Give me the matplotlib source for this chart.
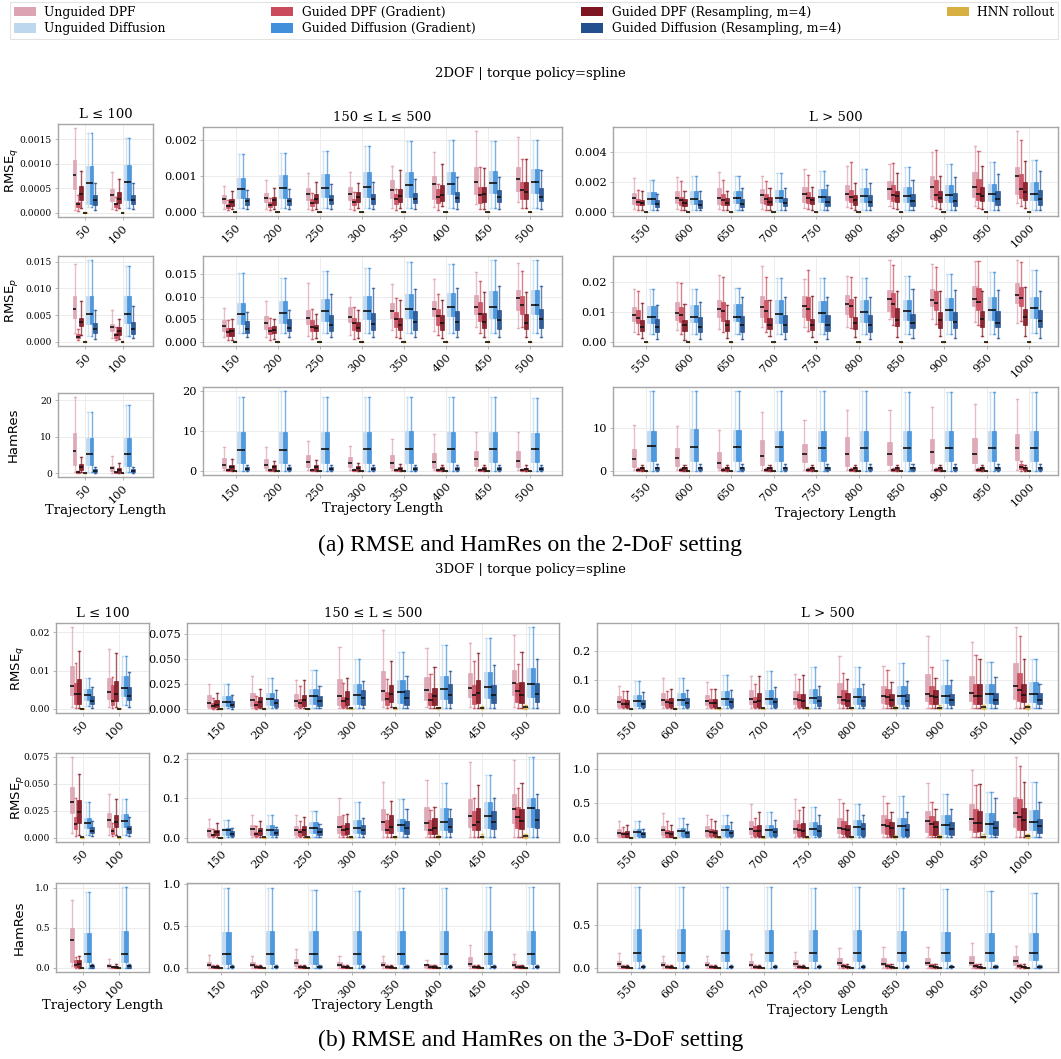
import matplotlib
matplotlib.use("Agg")
import matplotlib.pyplot as plt
from matplotlib.patches import Patch
from matplotlib.ticker import MultipleLocator

W, H, DPI = 1061, 1059, 100

SERIES = ["Unguided DPF", "Guided DPF (Gradient)", "Guided DPF (Resampling, m=4)",
          "HNN rollout", "Unguided Diffusion", "Guided Diffusion (Gradient)",
          "Guided Diffusion (Resampling, m=4)"]
COLORS = ["#dca3b2", "#c94b5c", "#7e1622", "#d8b042", "#bdd7ee", "#4090dc", "#22508f"]
LEN_SHORT = [50, 100]
LEN_MID = [150, 200, 250, 300, 350, 400, 450, 500]
LEN_LONG = [550, 600, 650, 700, 750, 800, 850, 900, 950, 1000]
COL_TITLES = ["L \u2264 100", "150 \u2264 L \u2264 500", "L > 500"]
METRIC_LABELS = ["RMSE$_q$", "RMSE$_p$", "HamRes"]
SETTING_TITLES = ["2DOF | torque policy=spline", "3DOF | torque policy=spline"]
CAPTIONS = ["(a) RMSE and HamRes on the 2-DoF setting",
            "(b) RMSE and HamRes on the 3-DoF setting"]
XLABEL = "Trajectory Length"

# Each entry: (whisker low, Q1, median, Q3, whisker high) for lengths 50..1000
# ---------------- 2DOF RMSE_q (x1e-3) ----------------
D2Q_UNIT = 1e-3
D2Q_UDPF = [(0.05,0.48,0.77,1.09,1.73),(0.07,0.25,0.36,0.48,0.84),
    (0.08,0.26,0.36,0.48,0.73),(0.07,0.28,0.39,0.54,0.90),(0.08,0.32,0.51,0.67,1.09),(0.09,0.32,0.49,0.70,1.12),
    (0.12,0.40,0.62,0.89,1.29),(0.14,0.35,0.77,1.01,1.67),(0.21,0.49,0.83,1.26,2.26),(0.27,0.58,0.93,1.25,2.09),
    (0.20,0.53,0.91,1.29,2.29),(0.20,0.60,0.95,1.38,2.35),(0.20,0.56,0.95,1.58,2.71),(0.20,0.60,1.15,1.51,2.44),
    (0.29,0.67,1.22,1.71,2.89),(0.33,0.78,1.22,1.84,3.11),(0.38,0.84,1.53,2.07,3.24),(0.38,0.89,1.69,2.42,4.02),
    (0.42,1.00,1.69,2.71,4.42),(0.60,1.18,2.40,3.04,5.44)]
D2Q_GDPF_GRAD = [(0.04,0.11,0.17,0.23,0.37),(0.05,0.12,0.17,0.21,0.32),
    (0.05,0.12,0.17,0.23,0.34),(0.05,0.14,0.20,0.28,0.40),(0.05,0.17,0.26,0.35,0.52),(0.05,0.20,0.28,0.37,0.55),
    (0.06,0.23,0.36,0.49,0.65),(0.05,0.26,0.42,0.65,0.78),(0.08,0.26,0.48,0.71,1.26),(0.12,0.35,0.60,0.85,1.49),
    (0.16,0.44,0.64,0.89,1.49),(0.16,0.47,0.78,1.00,2.07),(0.16,0.47,0.78,1.18,2.18),(0.16,0.56,0.89,1.22,2.11),
    (0.20,0.62,0.95,1.33,2.49),(0.24,0.67,1.00,1.49,3.33),(0.29,0.71,1.15,1.82,3.31),(0.29,0.78,1.15,2.15,4.15),
    (0.29,0.78,1.22,2.24,4.11),(0.38,0.96,1.55,2.53,4.82)]
D2Q_GDPF_RES = [(0.09,0.27,0.38,0.55,0.85),(0.09,0.20,0.29,0.43,0.69),
    (0.09,0.18,0.28,0.36,0.58),(0.09,0.20,0.32,0.41,0.67),(0.08,0.26,0.36,0.49,0.83),(0.11,0.27,0.41,0.56,0.82),
    (0.11,0.28,0.44,0.65,1.16),(0.16,0.30,0.46,0.74,1.35),(0.08,0.28,0.49,0.71,1.24),(0.12,0.37,0.55,0.85,1.47),
    (0.16,0.44,0.62,0.82,1.38),(0.16,0.42,0.62,0.84,1.42),(0.16,0.44,0.62,0.95,1.40),(0.11,0.44,0.69,0.98,1.62),
    (0.11,0.56,0.78,1.00,1.71),(0.16,0.49,0.82,1.15,1.98),(0.20,0.67,1.07,1.42,2.60),(0.20,0.67,0.95,1.42,2.40),
    (0.20,0.71,1.04,1.71,3.11),(0.29,0.78,1.33,2.00,3.44)]
D2Q_HNN = [(0.0,0.002,0.004,0.006,0.010)] * 20
D2Q_UDIFF = [(0.12,0.18,0.60,0.96,1.64),(0.10,0.26,0.63,0.98,1.54),
    (0.12,0.39,0.64,0.96,1.61),(0.12,0.40,0.67,1.04,1.65),(0.12,0.41,0.67,1.07,1.70),(0.12,0.41,0.71,1.12,1.84),
    (0.12,0.43,0.76,1.12,1.97),(0.12,0.49,0.78,1.13,2.00),(0.12,0.52,0.82,1.14,1.98),(0.12,0.53,0.84,1.20,2.00),
    (0.16,0.56,0.87,1.31,2.15),(0.16,0.56,0.89,1.40,2.40),(0.16,0.60,0.91,1.44,2.44),(0.16,0.64,0.95,1.49,2.64),
    (0.16,0.67,1.00,1.53,2.75),(0.16,0.67,1.07,1.64,2.89),(0.16,0.67,1.07,1.69,3.00),(0.16,0.67,1.15,1.78,3.22),
    (0.16,0.71,1.24,1.89,3.38),(0.16,0.78,1.22,2.04,3.49)]
D2Q_GDIFF_GRAD = list(D2Q_UDIFF)
D2Q_GDIFF_RES = [(0.06,0.16,0.27,0.37,0.60),(0.07,0.18,0.27,0.37,0.60),
    (0.07,0.19,0.30,0.39,0.60),(0.07,0.20,0.30,0.40,0.65),(0.07,0.21,0.32,0.46,0.78),(0.07,0.22,0.35,0.49,0.85),
    (0.07,0.26,0.37,0.53,0.92),(0.07,0.28,0.39,0.56,0.99),(0.08,0.28,0.41,0.60,0.99),(0.08,0.30,0.42,0.68,1.16),
    (0.11,0.33,0.51,0.80,1.24),(0.11,0.29,0.49,0.82,1.42),(0.11,0.33,0.56,0.89,1.60),(0.11,0.38,0.60,0.95,1.62),
    (0.11,0.38,0.64,1.04,1.84),(0.11,0.38,0.69,1.15,1.95),(0.11,0.38,0.73,1.18,2.18),(0.11,0.38,0.76,1.27,2.35),
    (0.11,0.44,0.84,1.40,2.58),(0.11,0.47,0.89,1.49,2.78)]

# ---------------- 2DOF RMSE_p (x1e-3) ----------------
D2P_UNIT = 1e-3
D2P_UDPF = [(1.6,4.4,6.1,8.5,14.6),(0.8,2.0,2.8,3.3,6.0),
    (1.1,2.4,3.5,4.8,7.6),(1.1,2.8,4.1,5.8,9.1),(1.3,3.9,5.3,7.2,13.0),(1.5,4.4,5.6,7.7,10.0),
    (2.6,5.3,6.8,8.7,12.9),(2.5,5.7,7.3,9.1,14.1),(3.3,6.2,7.8,10.4,15.6),(3.2,7.1,9.7,11.5,17.5),
    (3.4,6.9,8.9,11.7,17.7),(4.0,7.5,9.7,13.4,19.9),(4.3,8.3,11.1,14.0,22.4),(5.1,8.5,11.7,15.3,25.3),
    (5.1,8.3,12.0,15.3,21.0),(5.1,9.4,12.6,15.7,22.2),(7.7,10.3,14.5,17.4,27.4),(7.7,12.0,14.2,17.7,26.0),
    (6.6,12.0,14.5,18.7,27.0),(6.2,13.1,15.7,19.7,27.4)]
D2P_GDPF_GRAD = [(0.3,0.7,1.0,1.5,2.5),(0.3,0.8,1.2,1.7,2.7),
    (0.5,1.3,2.2,3.1,4.8),(0.5,1.7,2.5,3.3,5.3),(0.7,2.4,3.3,4.8,7.4),(0.7,2.6,4.1,5.4,7.8),
    (1.1,3.3,5.0,6.7,9.7),(1.5,3.7,5.8,7.4,10.6),(1.9,4.6,6.3,8.9,13.6),(3.3,6.3,8.3,10.2,15.8),
    (2.8,6.2,8.0,10.6,17.2),(2.6,6.5,8.9,11.7,19.7),(3.2,6.9,10.2,13.2,21.7),(3.2,6.8,10.3,14.0,21.9),
    (3.7,7.2,10.9,15.1,24.2),(4.7,8.3,11.9,14.3,21.7),(5.5,8.5,12.6,16.5,25.9),(6.0,10.6,13.1,16.9,25.0),
    (5.8,10.6,13.3,18.2,27.0),(6.9,12.0,14.8,18.3,26.8)]
D2P_GDPF_RES = [(1.2,3.0,3.7,4.5,7.7),(0.5,1.3,2.0,2.7,4.3),
    (0.5,1.3,2.4,3.1,5.2),(0.7,1.9,2.7,3.6,5.2),(0.8,2.4,3.0,3.7,6.3),(0.9,2.4,3.2,4.5,7.1),
    (0.9,2.6,3.7,5.4,9.4),(0.9,2.6,4.1,5.9,9.4),(1.0,3.0,4.5,6.5,11.0),(1.0,2.8,4.2,6.3,11.0),
    (1.2,3.5,5.1,7.2,13.1),(0.6,3.7,5.7,7.5,12.6),(1.2,3.7,5.7,7.5,12.4),(2.0,4.3,5.8,8.0,14.2),
    (1.5,4.0,5.8,7.7,15.3),(1.7,4.3,6.2,8.3,15.1),(1.7,5.2,7.4,11.5,17.0),(1.9,4.7,7.4,10.1,17.2),
    (2.0,5.1,7.7,10.3,17.2),(2.0,5.8,8.3,11.1,18.3)]
D2P_HNN = [(0.0,0.02,0.04,0.06,0.10)] * 20
D2P_UDIFF = [(1.1,3.3,5.3,8.5,15.3),(1.1,3.5,5.3,8.5,14.2),
    (1.9,3.9,6.1,8.7,15.4),(1.9,4.3,6.5,9.1,14.3),(1.9,4.7,6.8,9.6,15.8),(1.9,5.1,6.9,10.3,16.5),
    (1.9,5.4,7.3,10.6,17.8),(1.9,5.7,7.7,10.8,17.3),(1.9,5.4,7.8,11.4,18.2),(1.9,6.1,8.2,11.5,18.2),
    (2.6,6.4,8.5,11.9,17.8),(2.6,6.6,8.5,12.4,17.8),(2.6,6.9,8.5,12.6,18.2),(2.6,6.4,9.2,14.0,21.3),
    (2.6,6.6,9.7,13.6,21.3),(2.6,6.6,9.9,14.2,21.3),(2.8,7.2,10.2,14.2,22.0),(2.8,7.4,10.6,14.7,22.8),
    (2.8,7.4,10.8,15.1,23.5),(3.1,8.1,11.4,15.1,24.0)]
D2P_GDIFF_GRAD = list(D2P_UDIFF)
D2P_GDIFF_RES = [(0.6,1.6,2.4,3.5,5.9),(0.8,1.5,2.5,3.7,6.8),
    (1.0,1.9,2.9,4.6,6.7),(1.0,2.4,3.1,5.1,7.1),(1.0,2.5,3.7,5.9,10.6),(1.0,2.7,3.9,6.5,11.9),
    (1.0,2.7,4.5,6.8,11.7),(1.0,2.7,4.5,6.9,12.1),(1.0,2.8,4.8,7.2,12.4),(1.1,3.0,5.1,7.4,12.4),
    (0.9,3.2,4.9,7.7,12.2),(0.9,3.4,5.1,8.3,13.4),(0.9,3.4,5.5,8.7,15.1),(1.1,3.4,5.5,8.9,15.1),
    (0.9,3.7,5.5,8.9,15.1),(0.9,3.4,5.5,8.9,15.1),(1.2,4.5,6.2,9.4,17.7),(1.2,4.7,6.6,9.9,17.4),
    (1.2,4.9,6.4,10.3,17.4),(1.2,4.9,6.9,10.6,17.2)]

# ---------------- 2DOF HamRes ----------------
D2H_UNIT = 1.0
D2H_UDPF = [(0.4,2.2,6.1,11.0,21.0),(0.1,0.6,1.3,2.0,4.8),
    (0.2,0.65,1.6,3.3,5.9),(0.2,0.8,1.5,3.1,5.9),(0.2,1.0,2.2,4.0,7.5),(0.2,0.9,1.9,3.5,6.3),
    (0.2,0.8,2.0,4.0,7.9),(0.2,0.8,2.2,4.4,9.2),(0.2,1.2,3.1,5.0,9.8),(0.2,1.0,2.4,4.9,9.8),
    (0.2,1.0,2.7,5.0,10.5),(0.2,1.2,2.9,5.2,10.3),(0.2,0.8,1.9,4.3,9.4),(0.2,1.4,3.5,7.1,13.6),
    (0.2,2.0,3.8,6.3,11.8),(0.2,1.2,3.9,7.9,14.1),(0.2,1.4,3.8,6.6,14.1),(0.2,1.9,4.4,7.3,14.8),
    (0.2,1.8,4.0,7.6,15.5),(0.2,2.5,5.2,8.5,16.5)]
D2H_GDPF_GRAD = [(0.05,0.1,0.2,0.4,0.6),(0.02,0.1,0.2,0.3,0.4),
    (0.02,0.05,0.15,0.3,0.4),(0.02,0.05,0.15,0.3,0.4),(0.02,0.05,0.15,0.3,0.4),(0.02,0.05,0.15,0.3,0.4),
    (0.02,0.05,0.15,0.3,0.4),(0.02,0.05,0.15,0.3,0.4),(0.02,0.05,0.15,0.3,0.4),(0.02,0.05,0.15,0.3,0.4),
    (0.02,0.1,0.2,0.4,0.6),(0.02,0.1,0.2,0.4,0.6),(0.02,0.1,0.2,0.4,0.6),(0.02,0.1,0.2,0.4,0.6),
    (0.02,0.1,0.2,0.4,0.6),(0.02,0.1,0.2,0.4,0.6),(0.02,0.1,0.2,0.4,0.6),(0.02,0.1,0.2,0.4,0.6),
    (0.02,0.1,0.2,0.4,0.6),(0.1,0.5,1.0,1.5,2.4)]
D2H_GDPF_RES = [(0.2,0.8,1.6,2.4,4.5),(0.1,0.4,0.9,1.4,2.8),
    (0.05,0.2,0.9,1.6,3.0),(0.05,0.3,0.9,1.6,2.6),(0.05,0.2,0.9,1.5,2.8),(0.05,0.2,0.7,1.2,2.0),
    (0.05,0.2,0.6,1.1,1.8),(0.05,0.2,0.6,1.0,1.6),(0.05,0.2,0.5,0.9,1.4),(0.05,0.2,0.5,0.8,1.4),
    (0.05,0.2,0.6,0.9,1.4),(0.05,0.2,0.6,0.9,1.4),(0.05,0.2,0.6,0.9,1.4),(0.05,0.2,0.6,0.9,1.4),
    (0.05,0.2,0.6,0.9,1.4),(0.05,0.2,0.6,0.9,1.4),(0.05,0.2,0.6,0.9,1.4),(0.05,0.2,0.6,0.9,1.4),
    (0.05,0.2,0.6,0.9,1.4),(0.05,0.2,0.6,0.9,1.4)]
D2H_HNN = [(0.0,0.01,0.02,0.03,0.05)] * 20
D2H_UDIFF = [(0.2,2.2,5.3,9.8,16.7),(0.2,2.0,5.4,9.6,18.7),
    (0.1,2.0,5.3,9.7,18.5),(0.1,2.0,5.2,9.7,20.0),(0.1,2.0,5.5,9.7,18.5),(0.1,2.0,5.4,9.7,18.5),
    (0.1,2.0,5.4,9.9,18.5),(0.1,2.2,5.6,9.7,18.5),(0.1,2.3,5.6,9.7,18.4),(0.1,2.3,5.6,9.5,18.3),
    (0.1,2.3,5.7,9.3,18.3),(0.1,2.3,5.5,9.6,18.3),(0.1,2.3,5.5,9.4,18.4),(0.1,2.3,5.5,9.2,18.4),
    (0.1,2.3,5.4,9.1,18.4),(0.1,2.3,5.3,9.2,18.3),(0.1,2.3,5.3,9.1,18.1),(0.1,2.3,5.2,9.2,18.2),
    (0.1,2.3,5.2,9.3,18.1),(0.1,2.3,5.2,9.3,18.2)]
D2H_GDIFF_GRAD = list(D2H_UDIFF)
D2H_GDIFF_RES = [(0.1,0.4,0.7,1.1,1.8),(0.1,0.4,0.7,1.1,1.8)] + [(0.05,0.3,0.6,1.0,1.6)] * 18

# ---------------- 3DOF RMSE_q (x1e-3) ----------------
D3Q_UNIT = 1e-3
D3Q_UDPF = [(0.5,3.6,6.0,11.1,21.4),(0.5,2.7,4.4,8.0,15.6),
    (0.7,2.4,6.1,13.6,25.4),(1.0,3.1,9.2,16.3,33.2),(1.0,3.4,7.8,14.9,28.8),(1.0,4.4,13.2,29.8,62.0),
    (1.7,8.5,17.6,38.3,79.7),(1.7,9.2,18.6,31.9,61.0),(1.7,11.5,20.7,35.9,66.8),(2.4,13.6,26.4,39.0,74.2),
    (3.5,8.1,25.4,42.8,79.8),(3.5,13.9,30.1,54.3,107.5),(3.5,13.9,28.9,48.6,91.3),(3.5,17.3,35.8,63.6,114.4),
    (3.5,17.3,34.7,61.3,121.4),(3.5,22.0,40.5,89.0,181.5),(3.5,19.7,42.8,78.6,148.0),(3.5,26.6,52.0,119.1,250.9),
    (3.5,28.9,55.0,112.1,231.2),(3.5,34.7,77.5,156.1,280.9)]
D3Q_GDPF_GRAD = [(0.35,1.4,3.8,6.7,11.9),(0.2,1.0,2.0,6.2,8.4),
    (0.3,1.0,3.1,6.4,11.2),(0.3,1.4,3.7,7.5,12.5),(0.7,2.4,5.8,9.5,23.4),(0.7,2.4,7.5,11.9,26.1),
    (1.0,4.4,9.5,17.0,30.2),(1.0,4.1,8.5,15.9,35.6),(1.0,5.1,13.6,23.7,47.8),(1.0,6.8,17.6,26.1,45.4),
    (3.5,5.8,17.3,33.5,61.3),(3.5,5.8,24.3,34.7,61.3),(3.5,5.8,19.7,35.8,68.2),(3.5,8.1,24.3,40.5,84.4),
    (3.5,8.1,30.1,52.0,102.9),(3.5,17.3,31.2,65.9,123.7),(3.5,17.3,40.5,68.2,135.3),(3.5,17.3,42.8,77.5,144.5),
    (3.5,17.3,46.2,86.7,185.0),(3.5,28.9,65.9,123.7,250.9)]
D3Q_GDPF_RES = [(0.35,1.4,4.0,7.7,15.2),(0.5,2.1,4.0,7.4,14.6),
    (0.3,1.7,4.4,8.5,15.9),(0.7,2.4,6.8,11.9,20.3),(1.0,3.1,9.2,14.2,28.8),(1.0,4.1,10.2,18.0,31.5),
    (1.7,6.8,14.6,24.1,47.8),(1.0,4.1,13.2,21.4,42.0),(1.0,6.4,15.6,28.8,56.6),(1.0,6.1,14.2,27.5,57.0),
    (3.5,8.1,18.5,32.4,61.3),(3.5,8.1,22.0,37.0,67.0),(3.5,5.8,20.8,34.7,67.0),(3.5,8.1,28.9,54.3,114.4),
    (3.5,8.1,28.9,52.0,117.9),(3.5,10.4,28.9,54.3,102.9),(3.5,11.6,31.2,52.0,92.5),(3.5,17.3,40.5,64.7,107.5),
    (3.5,17.3,46.2,86.7,169.9),(3.5,23.1,48.6,86.7,172.2)]
D3Q_HNN = [(0.0,0.05,0.1,0.15,0.2),(0.0,0.05,0.1,0.15,0.2),
    (0.0,0.1,0.2,0.3,0.5),(0.0,0.1,0.3,0.4,0.6),(0.0,0.2,0.4,0.6,0.9),(0.1,0.3,0.6,0.9,1.3),
    (0.1,0.4,0.8,1.2,1.8),(0.1,0.5,1.0,1.5,2.3),(0.2,0.8,1.3,2.0,3.0),(0.2,0.9,1.5,2.3,3.5),
    (0.2,0.6,1.0,1.5,2.5),(0.2,0.8,1.3,2.0,3.0),(0.3,1.0,1.8,2.5,4.0),(0.3,1.2,2.2,3.2,5.0),
    (0.4,1.5,2.8,4.0,6.5),(0.4,1.8,3.2,4.8,8.0),(0.5,2.0,3.8,5.5,9.0),(0.5,2.5,4.5,7.0,12.0),
    (0.6,3.0,5.5,8.0,14.0),(0.6,3.0,5.5,8.5,15.0)]
D3Q_UDIFF = [(0.7,2.3,3.6,5.1,8.0),(0.9,3.3,5.5,8.6,13.9),
    (1.0,3.1,7.1,12.5,24.7),(1.0,4.1,10.2,16.3,31.5),(1.0,5.1,12.5,20.3,39.0),(1.0,5.1,14.2,24.7,50.5),
    (1.0,6.4,17.3,28.8,57.6),(1.0,10.2,20.0,32.9,64.7),(1.0,11.2,21.7,37.6,71.5),(1.0,11.9,24.7,41.7,82.4),
    (3.5,11.6,28.9,47.4,94.8),(3.5,13.9,30.1,54.3,107.5),(3.5,15.0,33.5,60.1,116.8),(3.5,17.3,35.8,63.6,130.6),
    (3.5,19.7,38.1,69.4,144.5),(3.5,17.3,40.5,72.8,144.5),(3.5,17.3,42.8,78.6,156.1),(3.5,22.0,46.2,80.9,167.6),
    (3.5,22.0,49.7,86.7,161.8),(3.5,23.1,49.7,91.3,169.9)]
D3Q_GDIFF_GRAD = list(D3Q_UDIFF)
D3Q_GDIFF_RES = [(0.35,1.2,2.0,3.3,5.6),(0.5,2.3,3.3,5.6,9.7),
    (0.3,1.7,4.1,7.8,13.9),(0.7,2.4,6.1,10.2,19.3),(0.7,3.4,7.8,12.9,23.1),(0.7,4.1,10.5,19.3,27.8),
    (1.0,4.4,11.2,18.6,32.9),(1.0,6.1,14.2,24.7,38.3),(1.0,6.4,13.9,24.1,44.7),(1.0,7.1,15.3,26.4,50.5),
    (3.5,5.8,16.2,31.2,56.6),(3.5,8.1,19.7,37.0,65.9),(3.5,8.1,23.1,38.1,63.6),(3.5,8.1,23.1,38.1,75.1),
    (3.5,11.6,28.9,42.8,78.6),(3.5,11.6,26.6,46.2,86.7),(3.5,11.6,28.9,49.7,96.0),(3.5,13.9,31.2,50.9,100.6),
    (3.5,17.3,32.4,54.3,109.8),(3.5,17.3,32.4,55.5,86.7)]

# ---------------- 3DOF RMSE_p (x1e-3) ----------------
D3P_UNIT = 1e-3
D3P_UDPF = [(4.5,23.3,32.9,47.4,74.9),(3.0,10.6,16.6,23.3,40.5),
    (1.6,5.7,18.0,26.1,47.3),(1.6,8.2,22.8,32.6,58.8),(1.6,8.2,20.4,31.0,57.1),(1.6,12.2,28.6,54.7,100.4),
    (1.6,18.8,39.2,73.4,140.4),(1.6,21.2,38.4,77.5,146.9),(1.6,26.9,54.7,97.9,191.8),(1.6,38.4,73.4,111.8,196.7),
    (10,24,72,130,250),(10,43,120,178,361),(10,34,101,178,332),(10,58,130,250,491),
    (10,72,130,260,563),(10,72,144,289,563),(10,72,183,332,601),(10,82,240,394,794),
    (10,120,279,491,976),(10,159,361,587,1170)]
D3P_GDPF_GRAD = [(2.1,8.5,12.7,19.6,36.8),(1.5,3.9,6.6,8.8,13.6),
    (1.6,4.1,7.3,10.6,22.0),(1.6,4.1,9.8,14.7,31.0),(1.6,5.7,14.7,22.8,41.6),(1.6,7.3,18.8,31.8,57.1),
    (1.6,12.2,20.4,44.9,61.2),(1.6,9.8,20.4,44.9,71.0),(1.6,18.8,32.6,66.9,102.0),(1.6,26.1,53.0,77.5,126.5),
    (10,14,53,82,159),(10,14,72,120,240),(10,24,82,135,274),(10,24,106,168,289),
    (10,34,120,202,409),(10,58,135,240,505),(10,58,168,274,505),(10,48,207,322,515),
    (10,82,216,418,770),(10,120,303,563,1040)]
D3P_GDPF_RES = [(3.0,13.6,24.2,34.7,58.9),(2.4,10.0,14.8,21.4,36.2),
    (1.6,7.3,14.7,20.4,36.7),(1.6,6.5,17.1,24.5,43.2),(1.6,8.2,18.8,30.2,53.0),(1.6,9.8,22.0,36.7,61.2),
    (1.6,12.2,28.6,57.1,93.8),(1.6,10.6,25.3,50.6,79.2),(1.6,20.4,40.8,75.9,133.0),(1.6,22.0,43.2,71.8,138.7),
    (10,14,58,96,183),(10,14,58,106,188),(10,24,72,120,250),(10,24,96,183,370),
    (10,24,106,216,447),(10,34,120,192,399),(10,34,144,226,375),(10,48,159,250,423),
    (10,96,216,394,784),(10,120,255,433,803)]
D3P_HNN = [(0.0,0.3,0.6,0.9,1.3),(0.0,0.3,0.6,0.9,1.3),
    (0.0,0.5,1.0,1.5,2.2),(0.0,0.6,1.2,1.8,2.6),(0.0,0.8,1.5,2.2,3.2),(0.2,1.0,2.0,3.0,4.5),
    (0.3,1.3,2.5,3.8,5.5),(0.3,1.6,3.0,4.5,7.0),(0.4,2.0,3.5,5.5,9.0),(0.5,2.2,4.0,6.5,10.0),
    (1,3,6,9,14),(1,4,7,10,16),(1,5,8,12,19),(1,6,10,15,24),
    (2,7,12,18,30),(2,8,14,21,35),(2,10,17,25,42),(3,12,20,30,48),
    (3,12,22,34,55),(3,14,25,40,60)]
D3P_UDIFF = [(3.0,9.1,13.6,18.7,33.2),(3.0,10.6,16.0,22.3,36.2),
    (1.6,7.3,18.8,24.5,46.5),(1.6,8.2,20.4,32.6,58.8),(1.6,11.4,24.5,40.0,69.0),(1.6,12.2,26.1,44.9,90.6),
    (1.6,16.3,32.6,49.0,97.9),(1.6,20.4,39.2,75.9,138.7),(1.6,24.5,54.7,89.8,159.1),(1.6,28.6,75.9,102.0,204.0),
    (10,24,87,130,250),(10,24,96,144,289),(10,24,111,188,327),(10,34,120,192,380),
    (10,48,130,226,447),(10,48,154,265,495),(10,34,168,293,601),(10,58,183,332,640),
    (10,58,207,361,664),(10,120,231,409,813)]
D3P_GDIFF_GRAD = list(D3P_UDIFF)
D3P_GDIFF_RES = [(1.5,4.2,6.6,10.0,16.0),(2.1,4.5,8.2,11.2,19.6),
    (1.6,5.7,10.6,16.3,26.1),(1.6,6.5,12.2,22.0,28.6),(1.6,8.2,14.7,26.1,36.0),(1.6,9.8,18.8,32.6,50.6),
    (1.6,10.6,24.5,43.2,72.6),(1.6,13.9,27.7,51.4,72.6),(1.6,22.0,40.8,67.7,100.4),(1.6,24.5,44.9,73.4,111.8),
    (10,14,58,91,130),(10,14,72,106,202),(10,24,72,120,226),(10,24,87,144,255),
    (10,34,106,183,337),(10,34,130,216,337),(10,34,120,207,380),(10,48,135,226,423),
    (10,48,144,240,577),(10,72,168,274,519)]

# ---------------- 3DOF HamRes ----------------
D3H_UNIT = 1.0
D3H_UDPF = [(0.02,0.07,0.35,0.50,0.85),(0.0,0.012,0.03,0.05,0.11),
    (0.0,0.02,0.04,0.075,0.15),(0.0,0.02,0.04,0.07,0.14),(0.0,0.02,0.06,0.11,0.22),(0.0,0.02,0.04,0.07,0.14),
    (0.0,0.02,0.04,0.07,0.14),(0.0,0.01,0.03,0.05,0.10),(0.0,0.02,0.05,0.13,0.27),(0.0,0.02,0.04,0.08,0.17),
    (0.0,0.02,0.05,0.08,0.17),(0.0,0.02,0.04,0.07,0.14),(0.0,0.02,0.04,0.07,0.14),(0.0,0.02,0.04,0.08,0.16),
    (0.0,0.02,0.05,0.09,0.19),(0.0,0.03,0.06,0.12,0.23),(0.0,0.03,0.05,0.12,0.25),(0.0,0.03,0.06,0.12,0.24),
    (0.0,0.03,0.06,0.14,0.29),(0.0,0.04,0.08,0.14,0.26)]
D3H_GDPF_GRAD = ([(0.0,0.012,0.04,0.094,0.14),(0.0,0.004,0.01,0.02,0.03)]
    + [(0.0,0.003,0.01,0.02,0.035)] * 8
    + [(0.0,0.005,0.01,0.02,0.04)] * 5 + [(0.0,0.01,0.02,0.03,0.05)] * 5)
D3H_GDPF_RES = ([(0.0,0.012,0.05,0.094,0.15),(0.0,0.004,0.015,0.03,0.05)]
    + [(0.0,0.003,0.008,0.02,0.03)] * 8
    + [(0.0,0.005,0.01,0.02,0.035)] * 5 + [(0.0,0.008,0.015,0.025,0.045)] * 5)
D3H_HNN = [(0.0,0.001,0.002,0.003,0.005)] * 20
D3H_UDIFF = [(0.0,0.07,0.18,0.44,0.95),(0.0,0.07,0.17,0.46,1.01),
    (0.0,0.05,0.17,0.43,0.95),(0.0,0.05,0.17,0.44,0.95),(0.0,0.05,0.16,0.44,0.93),(0.0,0.05,0.16,0.44,0.91),
    (0.0,0.05,0.16,0.44,0.95),(0.0,0.05,0.16,0.44,0.95),(0.0,0.05,0.17,0.44,0.96),(0.0,0.05,0.16,0.44,0.96),
    (0.0,0.08,0.17,0.45,0.94),(0.0,0.08,0.17,0.45,0.945),(0.0,0.08,0.17,0.44,0.94),(0.0,0.08,0.17,0.44,0.94),
    (0.0,0.08,0.17,0.44,0.935),(0.0,0.08,0.17,0.44,0.94),(0.0,0.08,0.17,0.43,0.93),(0.0,0.08,0.17,0.42,0.92),
    (0.0,0.08,0.17,0.41,0.90),(0.0,0.09,0.17,0.41,0.87)]
D3H_GDIFF_GRAD = list(D3H_UDIFF)
D3H_GDIFF_RES = [(0.0,0.004,0.02,0.035,0.05)] * 2 + [(0.0,0.008,0.015,0.025,0.04)] * 18

# ---------------- assemble ----------------
DATA = [
    [[D2Q_UDPF, D2Q_GDPF_GRAD, D2Q_GDPF_RES, D2Q_HNN, D2Q_UDIFF, D2Q_GDIFF_GRAD, D2Q_GDIFF_RES],
     [D2P_UDPF, D2P_GDPF_GRAD, D2P_GDPF_RES, D2P_HNN, D2P_UDIFF, D2P_GDIFF_GRAD, D2P_GDIFF_RES],
     [D2H_UDPF, D2H_GDPF_GRAD, D2H_GDPF_RES, D2H_HNN, D2H_UDIFF, D2H_GDIFF_GRAD, D2H_GDIFF_RES]],
    [[D3Q_UDPF, D3Q_GDPF_GRAD, D3Q_GDPF_RES, D3Q_HNN, D3Q_UDIFF, D3Q_GDIFF_GRAD, D3Q_GDIFF_RES],
     [D3P_UDPF, D3P_GDPF_GRAD, D3P_GDPF_RES, D3P_HNN, D3P_UDIFF, D3P_GDIFF_GRAD, D3P_GDIFF_RES],
     [D3H_UDPF, D3H_GDPF_GRAD, D3H_GDPF_RES, D3H_HNN, D3H_UDIFF, D3H_GDIFF_GRAD, D3H_GDIFF_RES]],
]
UNITS = [[D2Q_UNIT, D2P_UNIT, D2H_UNIT], [D3Q_UNIT, D3P_UNIT, D3H_UNIT]]
YSTEPS = [[[0.0005, 0.001, 0.002], [0.005, 0.005, 0.01], [10, 10, 10]],
          [[0.01, 0.025, 0.1], [0.025, 0.1, 0.5], [0.5, 0.5, 0.5]]]
GROUPS = [LEN_SHORT, LEN_MID, LEN_LONG]

# ---------------- layout (pixels) ----------------
COLS_X = [[(58, 153), (203, 562), (613, 1058)],
          [(56, 149), (187, 559), (597, 1058)]]
ROWS_Y = [[[(124, 217), (256, 346), (393, 477)],
           [(127, 216), (256, 346), (387, 475)],
           [(127, 216), (256, 346), (387, 475)]],
          [[(623, 713), (753, 842), (883, 972)]] * 3]
XLIMS = [(-0.72, 1.8), (-0.78, 7.76), (-0.78, 9.68)]
YLABEL_X = [20, 26]
BLOCK_TITLE_Y = [73, 570]
CAPTION_Y = [545, 1040]

OFFSETS = [-0.28, -0.19, -0.10, -0.01, 0.08, 0.17, 0.26]
BOXW = 0.1

plt.rcParams["font.family"] = "DejaVu Serif"
plt.rcParams["mathtext.fontset"] = "dejavusans"

fig = plt.figure(figsize=(W / DPI, H / DPI), dpi=DPI)


def rect(x0, x1, y0, y1):
    return [x0 / W, 1 - y1 / H, (x1 - x0) / W, (y1 - y0) / H]


for s in range(2):
    for m in range(3):
        unit = UNITS[s][m]
        start = 0
        for c, lens in enumerate(GROUPS):
            x0, x1 = COLS_X[s][c]
            y0, y1 = ROWS_Y[s][c][m]
            ax = fig.add_axes(rect(x0, x1, y0, y1))
            ax.set_axisbelow(True)
            ax.grid(True, color="#ececec", linewidth=0.7)
            n = len(lens)
            for i in range(7):
                stats = []
                for j in range(n):
                    lo, q1, med, q3, hi = DATA[s][m][i][start + j]
                    stats.append(dict(whislo=lo * unit, q1=q1 * unit, med=med * unit,
                                      q3=q3 * unit, whishi=hi * unit, fliers=[]))
                ax.bxp(stats, positions=[j + OFFSETS[i] for j in range(n)], widths=BOXW,
                       patch_artist=True, showfliers=False, manage_ticks=False,
                       capwidths=0.05,
                       boxprops=dict(facecolor=COLORS[i], edgecolor=COLORS[i],
                                     linewidth=0.5, alpha=0.92),
                       whiskerprops=dict(color=COLORS[i], linewidth=1.0, alpha=0.7),
                       capprops=dict(color=COLORS[i], linewidth=1.0, alpha=0.7),
                       medianprops=dict(color="#111111", linewidth=1.2))
            start += n
            ax.set_xlim(*XLIMS[c])
            ax.set_xticks(range(n))
            ax.set_xticklabels([str(v) for v in lens], rotation=45, ha="right",
                               rotation_mode="anchor")
            ax.yaxis.set_major_locator(MultipleLocator(YSTEPS[s][m][c]))
            lsize = 6.6 if c == 0 else 8.2
            ax.tick_params(axis="y", labelsize=lsize, length=2.5, width=0.6,
                           color="#aaaaaa", pad=2)
            ax.tick_params(axis="x", labelsize=8.2, length=2.5, width=0.6,
                           color="#aaaaaa", pad=2)
            for sp in ax.spines.values():
                sp.set_color("#a6a6a6")
                sp.set_linewidth(1.0)
            if m == 0:
                ax.set_title(COL_TITLES[c], fontsize=9.5, pad=4)
            if m == 2:
                ax.set_xlabel(XLABEL, fontsize=9.5, labelpad=-1)
            if c == 0:
                ax.set_ylabel(METRIC_LABELS[m], fontsize=9.5, family="DejaVu Sans")
                ax.yaxis.set_label_coords((YLABEL_X[s] - x0) / (x1 - x0), 0.5)

    fig.text(0.5, 1 - BLOCK_TITLE_Y[s] / H, SETTING_TITLES[s], ha="center", va="center",
             fontsize=9.5)
    fig.text(0.5, 1 - CAPTION_Y[s] / H, CAPTIONS[s], ha="center", va="center",
             fontsize=17, family="Liberation Serif")

order = [0, 4, 1, 5, 2, 6, 3]
handles = [Patch(facecolor=COLORS[k], edgecolor="none") for k in order]
labels = [SERIES[k] for k in order]
leg = fig.legend(handles, labels, ncol=4, mode="expand", loc="upper left",
                 bbox_to_anchor=(10 / W, 1 - 38 / H, 1048 / W, 36 / H),
                 borderaxespad=0, fontsize=8.8, frameon=True, fancybox=False,
                 handlelength=1.8, handleheight=0.8, labelspacing=0.3,
                 borderpad=0.3, handletextpad=0.7)
leg.get_frame().set_edgecolor("#dddddd")
leg.get_frame().set_linewidth(0.8)

fig.savefig("out.png", dpi=DPI)
